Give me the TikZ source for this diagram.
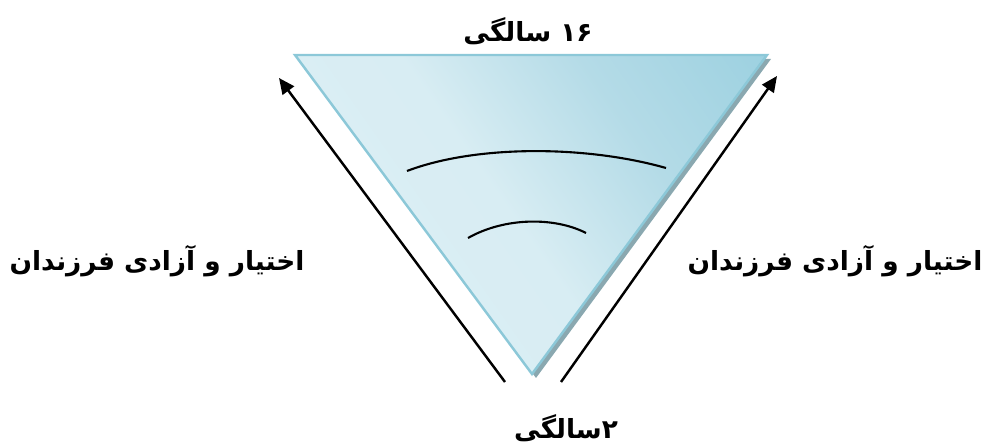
\documentclass[tikz,border=0pt]{standalone}
\usepackage{fontspec}
\newfontfamily\farsi[Script=Arabic, BoldFont={DejaVu Sans Bold}]{DejaVu Sans}
\TeXXeTstate=1
\usetikzlibrary{arrows.meta, positioning, calc}
\definecolor{tlight}{RGB}{224,240,246}
\definecolor{tmid}{RGB}{216,237,243}
\definecolor{tmidd}{RGB}{180,219,231}
\definecolor{tdark}{RGB}{138,201,219}
\definecolor{tedge}{RGB}{140,200,216}
\definecolor{tshadow}{RGB}{138,168,176}
\pgfdeclarehorizontalshading{trishade}{100bp}{color(0bp)=(tlight); color(48bp)=(tmid); color(66bp)=(tmidd); color(100bp)=(tdark)}

\begin{document}
\begin{tikzpicture}[
    x=0.02cm, y=-0.02cm,
    agetext/.style={font=\farsi\bfseries\fontsize{15}{18}\selectfont, inner sep=0pt},
    growarrow/.style={-{Triangle[length=9pt, width=8pt]}, line width=1.4pt},
    arcline/.style={line width=1.2pt}
]
    \useasboundingbox (0,0) rectangle (987,445);
    % corners of the triangle
    \coordinate (tl) at (295,55);
    \coordinate (tr) at (767,55);
    \coordinate (bt) at (532,374);
    % shadow and body
    \fill [tshadow] ($(tl)+(4,4)$) -- ($(tr)+(4,4)$) -- ($(bt)+(4,4)$) -- cycle;
    \path [draw=tedge, line width=1.4pt, shading=trishade, shading angle=35]
        (tl) -- (tr) -- (bt) -- cycle;
    % arcs
    \draw [arcline] (407,171) .. controls (475,145) and (585,145) .. (666,168);
    \draw [arcline] (468,238) .. controls (505,217) and (555,217) .. (586,233);
    % arrows
    \coordinate (ls) at (505,382);
    \coordinate (le) at (279,78);
    \coordinate (rs) at (561,382);
    \coordinate (re) at (777,76);
    \draw [growarrow] (ls) -- (le);
    \draw [growarrow] (rs) -- (re);
    % labels
    \node [agetext] (top) at (528,31) {\hbox{سالگی}\hbox{ }\hbox{۱۶}};
    \node [agetext] (bottom) at (566,428) {\hbox{سالگی}\hbox{۲}};
    \node [agetext] (left) at (157,261) {\beginR اختیار و آزادی فرزندان\endR};
    \node [agetext] (right) at (835,261) {\beginR اختیار و آزادی فرزندان\endR};
\end{tikzpicture}
\end{document}
